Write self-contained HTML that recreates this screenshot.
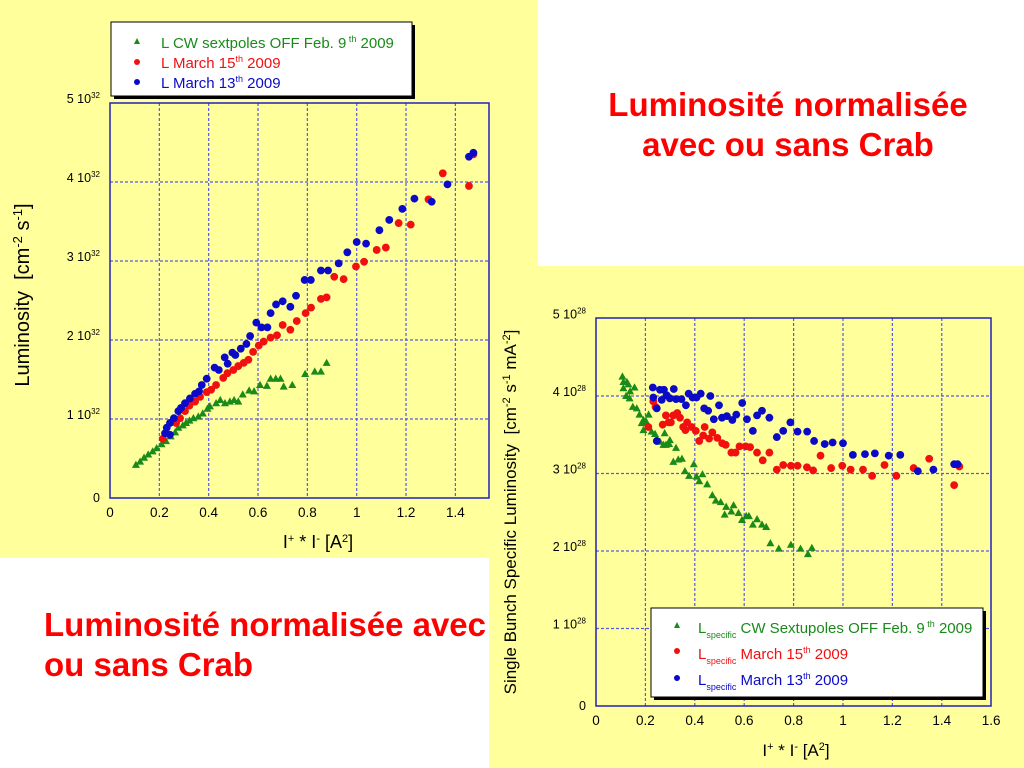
<!DOCTYPE html>
<html><head><meta charset="utf-8"><style>
body{margin:0;width:1024px;height:768px;overflow:hidden;background:#fff;font-family:"Liberation Sans",sans-serif;position:relative}
.red{position:absolute;color:#f00;font-weight:bold;font-size:33px;font-family:"Liberation Sans",sans-serif;line-height:40px}
</style></head><body>
<div style="position:absolute;left:0;top:0;width:538px;height:558px;background:#ffff9c"></div>
<div style="position:absolute;left:489px;top:266px;width:535px;height:502px;background:#ffff9c"></div>
<div class="red" style="left:553px;top:85px;width:470px;text-align:center">Luminosité normalisée<br>avec ou sans Crab</div>
<div class="red" style="left:44px;top:605px;white-space:nowrap">Luminosité normalisée avec<br>ou sans Crab</div>
<svg id="s" width="1024" height="768" style="position:absolute;left:0;top:0"></svg>
<script>
// Left chart data (x in A^2, y in 1e32)
const lBlueX=[1.455,1.473,1.368,1.304,1.234,1.185,1.132,1.092,1.038,1.0,0.962,0.927,0.884,0.855,0.814,0.789,0.754,0.731,0.70,0.673,0.651,0.638,0.614,0.593,0.568,0.553,0.530,0.508,0.496,0.477,0.465,0.441,0.424,0.392,0.372,0.361,0.345,0.324,0.304,0.288,0.277,0.259,0.243,0.230,0.223,0.243];
const lBlueY=[4.32,4.37,3.97,3.75,3.79,3.66,3.52,3.39,3.22,3.24,3.11,2.97,2.88,2.88,2.76,2.76,2.56,2.42,2.49,2.45,2.34,2.16,2.16,2.22,2.05,1.95,1.89,1.81,1.84,1.70,1.78,1.62,1.65,1.51,1.43,1.35,1.32,1.26,1.20,1.14,1.10,1.01,0.95,0.89,0.82,0.80];
const lRedX=[1.473,1.349,1.455,1.291,1.219,1.170,1.118,1.081,1.030,0.997,0.947,0.909,0.878,0.855,0.815,0.793,0.757,0.731,0.70,0.677,0.651,0.623,0.603,0.580,0.561,0.542,0.520,0.5,0.476,0.459,0.43,0.41,0.392,0.365,0.345,0.322,0.304,0.284,0.268,0.214];
const lRedY=[4.35,4.11,3.95,3.78,3.46,3.48,3.17,3.14,2.99,2.93,2.77,2.80,2.54,2.52,2.41,2.34,2.24,2.13,2.19,2.06,2.03,1.98,1.93,1.85,1.75,1.71,1.67,1.62,1.58,1.52,1.43,1.37,1.34,1.28,1.22,1.17,1.10,1.01,0.95,0.75];
const lGreenX=[0.878,0.855,0.830,0.791,0.739,0.704,0.691,0.672,0.651,0.636,0.608,0.584,0.564,0.538,0.520,0.503,0.486,0.466,0.447,0.43,0.405,0.395,0.376,0.358,0.338,0.322,0.308,0.295,0.277,0.264,0.246,0.227,0.209,0.189,0.173,0.155,0.138,0.122,0.105];
const lGreenY=[1.71,1.60,1.60,1.57,1.43,1.41,1.51,1.51,1.51,1.42,1.43,1.35,1.36,1.31,1.22,1.24,1.22,1.20,1.24,1.20,1.16,1.13,1.07,1.03,1.01,0.98,0.95,0.92,0.89,0.83,0.78,0.72,0.68,0.63,0.59,0.55,0.51,0.46,0.42];
const lXTicks=["0","0.2","0.4","0.6","0.8","1","1.2","1.4"];
const lYTicks=["0","1 10","2 10","3 10","4 10","5 10"];
// Right chart data (x in A^2, y in 1e28)
const rBlueX=[0.230,0.232,0.246,0.259,0.275,0.266,0.286,0.315,0.299,0.324,0.346,0.364,0.375,0.391,0.407,0.424,0.463,0.438,0.454,0.477,0.498,0.510,0.530,0.552,0.568,0.592,0.611,0.635,0.652,0.672,0.702,0.732,0.758,0.787,0.816,0.855,0.883,0.926,0.958,1.0,1.040,1.089,1.129,1.185,1.232,1.303,1.366,1.450,1.464,0.246];
const rBlueY=[4.11,3.98,3.84,4.08,4.08,3.95,4.01,4.09,3.97,3.96,3.96,3.88,4.03,3.98,3.98,4.03,4.00,3.84,3.81,3.70,3.88,3.72,3.74,3.69,3.76,3.91,3.70,3.55,3.75,3.81,3.72,3.47,3.55,3.66,3.54,3.54,3.42,3.38,3.40,3.39,3.24,3.25,3.26,3.23,3.24,3.03,3.05,3.12,3.12,3.42];
const rRedX=[0.212,0.232,0.241,0.27,0.283,0.294,0.303,0.313,0.329,0.34,0.353,0.369,0.362,0.387,0.404,0.418,0.440,0.434,0.458,0.471,0.491,0.511,0.525,0.548,0.565,0.581,0.606,0.624,0.652,0.675,0.702,0.732,0.758,0.789,0.816,0.854,0.879,0.909,0.952,0.997,1.031,1.081,1.118,1.168,1.216,1.286,1.349,1.450,1.471];
const rRedY=[3.60,3.93,3.86,3.63,3.75,3.66,3.66,3.75,3.78,3.72,3.60,3.66,3.56,3.60,3.55,3.42,3.60,3.49,3.45,3.53,3.46,3.39,3.37,3.27,3.27,3.35,3.35,3.34,3.27,3.17,3.27,3.05,3.11,3.10,3.10,3.08,3.04,3.23,3.07,3.10,3.05,3.05,2.97,3.11,2.97,3.07,3.19,2.85,3.09];
const rGreenX=[0.107,0.111,0.125,0.131,0.111,0.138,0.156,0.122,0.136,0.149,0.165,0.176,0.192,0.185,0.213,0.203,0.192,0.225,0.239,0.278,0.259,0.273,0.283,0.299,0.296,0.324,0.313,0.333,0.348,0.396,0.360,0.377,0.407,0.431,0.418,0.450,0.471,0.485,0.505,0.527,0.557,0.521,0.548,0.577,0.608,0.619,0.591,0.635,0.652,0.672,0.689,0.706,0.740,0.789,0.828,0.858,0.874];
const rGreenY=[4.25,4.18,4.18,4.15,4.10,4.06,4.11,4.00,3.97,3.86,3.84,3.76,3.69,3.65,3.76,3.67,3.56,3.54,3.51,3.52,3.41,3.37,3.37,3.43,3.38,3.33,3.15,3.18,3.19,3.12,3.03,2.97,2.96,2.99,2.90,2.86,2.72,2.65,2.63,2.57,2.59,2.47,2.51,2.49,2.45,2.45,2.40,2.34,2.41,2.34,2.31,2.10,2.03,2.08,2.03,1.96,2.04];
const rXTicks=["0","0.2","0.4","0.6","0.8","1","1.2","1.4","1.6"];
const rYTicks=["0","1 10","2 10","3 10","4 10","5 10"];

const NS="http://www.w3.org/2000/svg";
const svg=document.getElementById('s');
function mk(tag,attrs,parent,text){const e=document.createElementNS(NS,tag);for(const k in attrs)e.setAttribute(k,attrs[k]);if(text!==undefined)e.textContent=text;(parent||svg).appendChild(e);return e;}

function chart(cfg){
  const g=mk('g',{});
  
  
  const sx=v=>cfg.x0+v*cfg.xu, sy=v=>cfg.y0-v*cfg.yu;
  cfg.xt.forEach((t,i)=>{const x=sx(i*0.2);
    if(i>0&&x<cfg.right-2){const l=mk('line',{x1:x,x2:x,y1:cfg.top,y2:cfg.y0,stroke:'#5a5ae0','stroke-width':1.2,'stroke-dasharray':'3,2'},g);}
    const tx=mk('text',{x:x,y:cfg.y0+19,'text-anchor':'middle','font-size':13.5,fill:'#000'},g,t);
    
  });
  cfg.yt.forEach((t,i)=>{const y=sy(i);
    if(i>0&&i<5){const l=mk('line',{x1:cfg.x0,x2:cfg.right,y1:y,y2:y,stroke:'#5a5ae0','stroke-width':1.2,'stroke-dasharray':'3,2'},g);}
    const tx=mk('text',{x:cfg.x0-10,y:y+(i==0?4:0),'text-anchor':'end','font-size':12.5,fill:'#000'},g);
    
    tx.textContent=t;
    if(i>0){mk('tspan',{dy:-5,'font-size':8},tx,cfg.exp);}
  });
  const b=mk('rect',{x:cfg.x0,y:cfg.top,width:cfg.right-cfg.x0,height:cfg.y0-cfg.top,fill:'none',stroke:'#2020c0','stroke-width':1.5},g);
  
  const tri=(x,y,c)=>{const p=mk('polygon',{points:`${x},${y-4.2} ${x-4},${y+3} ${x+4},${y+3}`,fill:c},g);};
  const dot=(x,y,c,n)=>{const p=mk('circle',{cx:x,cy:y,r:3.9,fill:c},g);};
  cfg.gx.forEach((v,i)=>tri(sx(v),sy(cfg.gy[i]),'#1a8a1a'));
  cfg.rx.forEach((v,i)=>dot(sx(v),sy(cfg.ry[i]),'#f01010','red-point'));
  cfg.bx.forEach((v,i)=>dot(sx(v),sy(cfg.by[i]),'#0a0ac8','blue-point'));
}
chart({name:'left-chart',x0:110,xu:246.7,y0:498,yu:79,top:103,right:489,xt:lXTicks,yt:lYTicks,exp:'32',
  bx:lBlueX,by:lBlueY,rx:lRedX,ry:lRedY,gx:lGreenX,gy:lGreenY});
chart({name:'right-chart',x0:596,xu:247,y0:706,yu:77.5,top:318,right:991,xt:rXTicks,yt:rYTicks,exp:'28',
  bx:rBlueX,by:rBlueY,rx:rRedX,ry:rRedY,gx:rGreenX,gy:rGreenY});
</script>
<svg width="1024" height="768" style="position:absolute;left:0;top:0" font-family="Liberation Sans, sans-serif">
<text transform="translate(29,295) rotate(-90)" text-anchor="middle" font-size="20" xml:space="preserve">Luminosity  [cm<tspan dy="-7" font-size="13">-2</tspan><tspan dy="7"> s</tspan><tspan dy="-7" font-size="13">-1</tspan><tspan dy="7">]</tspan></text>
<text x="318" y="548" text-anchor="middle" font-size="18">I<tspan dy="-6" font-size="11">+</tspan><tspan dy="6"> * I</tspan><tspan dy="-6" font-size="11">-</tspan><tspan dy="6"> [A</tspan><tspan dy="-6" font-size="11">2</tspan><tspan dy="6">]</tspan></text>
<text transform="translate(516,512) rotate(-90)" text-anchor="middle" font-size="17" xml:space="preserve">Single Bunch Specific Luminosity  [cm<tspan dy="-6" font-size="11">-2</tspan><tspan dy="6"> s</tspan><tspan dy="-6" font-size="11">-1</tspan><tspan dy="6"> mA</tspan><tspan dy="-6" font-size="11">-2</tspan><tspan dy="6">]</tspan></text>
<text x="796" y="756" text-anchor="middle" font-size="17">I<tspan dy="-6" font-size="11">+</tspan><tspan dy="6"> * I</tspan><tspan dy="-6" font-size="11">-</tspan><tspan dy="6"> [A</tspan><tspan dy="-6" font-size="11">2</tspan><tspan dy="6">]</tspan></text>
<g xml:space="preserve">
<rect x="114" y="25" width="301" height="74" fill="#000"/>
<rect x="111" y="22" width="301" height="74" fill="#fff" stroke="#000" stroke-width="1"/>
<polygon points="137,38 134,44 140,44" fill="#1a8a1a"/>
<text x="161" y="48" font-size="15" fill="#1a8a1a">L CW sextpoles OFF Feb. 9<tspan dy="-6" font-size="9"> th</tspan><tspan dy="6">  2009</tspan></text>
<circle cx="137" cy="62" r="3" fill="#f01010"/>
<text x="161" y="68" font-size="15" fill="#f01010">L March 15<tspan dy="-6" font-size="9">th</tspan><tspan dy="6"> 2009</tspan></text>
<circle cx="137" cy="82" r="3" fill="#0a0ac8"/>
<text x="161" y="88" font-size="15" fill="#0a0ac8">L March 13<tspan dy="-6" font-size="9">th</tspan><tspan dy="6">  2009</tspan></text>
</g>
<g xml:space="preserve">
<rect x="654" y="611" width="332" height="89" fill="#000"/>
<rect x="651" y="608" width="332" height="89" fill="#fff" stroke="#000" stroke-width="1"/>
<polygon points="677,622 674,628 680,628" fill="#1a8a1a"/>
<text x="698" y="633" font-size="15" fill="#1a8a1a">L<tspan dy="5" font-size="9">specific</tspan><tspan dy="-5"> CW Sextupoles OFF Feb. 9</tspan><tspan dy="-6" font-size="9"> th</tspan><tspan dy="6">  2009</tspan></text>
<circle cx="677" cy="651" r="3" fill="#f01010"/>
<text x="698" y="659" font-size="15" fill="#f01010">L<tspan dy="5" font-size="9">specific</tspan><tspan dy="-5"> March 15</tspan><tspan dy="-6" font-size="9">th</tspan><tspan dy="6">  2009</tspan></text>
<circle cx="677" cy="678" r="3" fill="#0a0ac8"/>
<text x="698" y="685" font-size="15" fill="#0a0ac8">L<tspan dy="5" font-size="9">specific</tspan><tspan dy="-5"> March 13</tspan><tspan dy="-6" font-size="9">th</tspan><tspan dy="6">  2009</tspan></text>
</g>
</svg>
</body></html>
